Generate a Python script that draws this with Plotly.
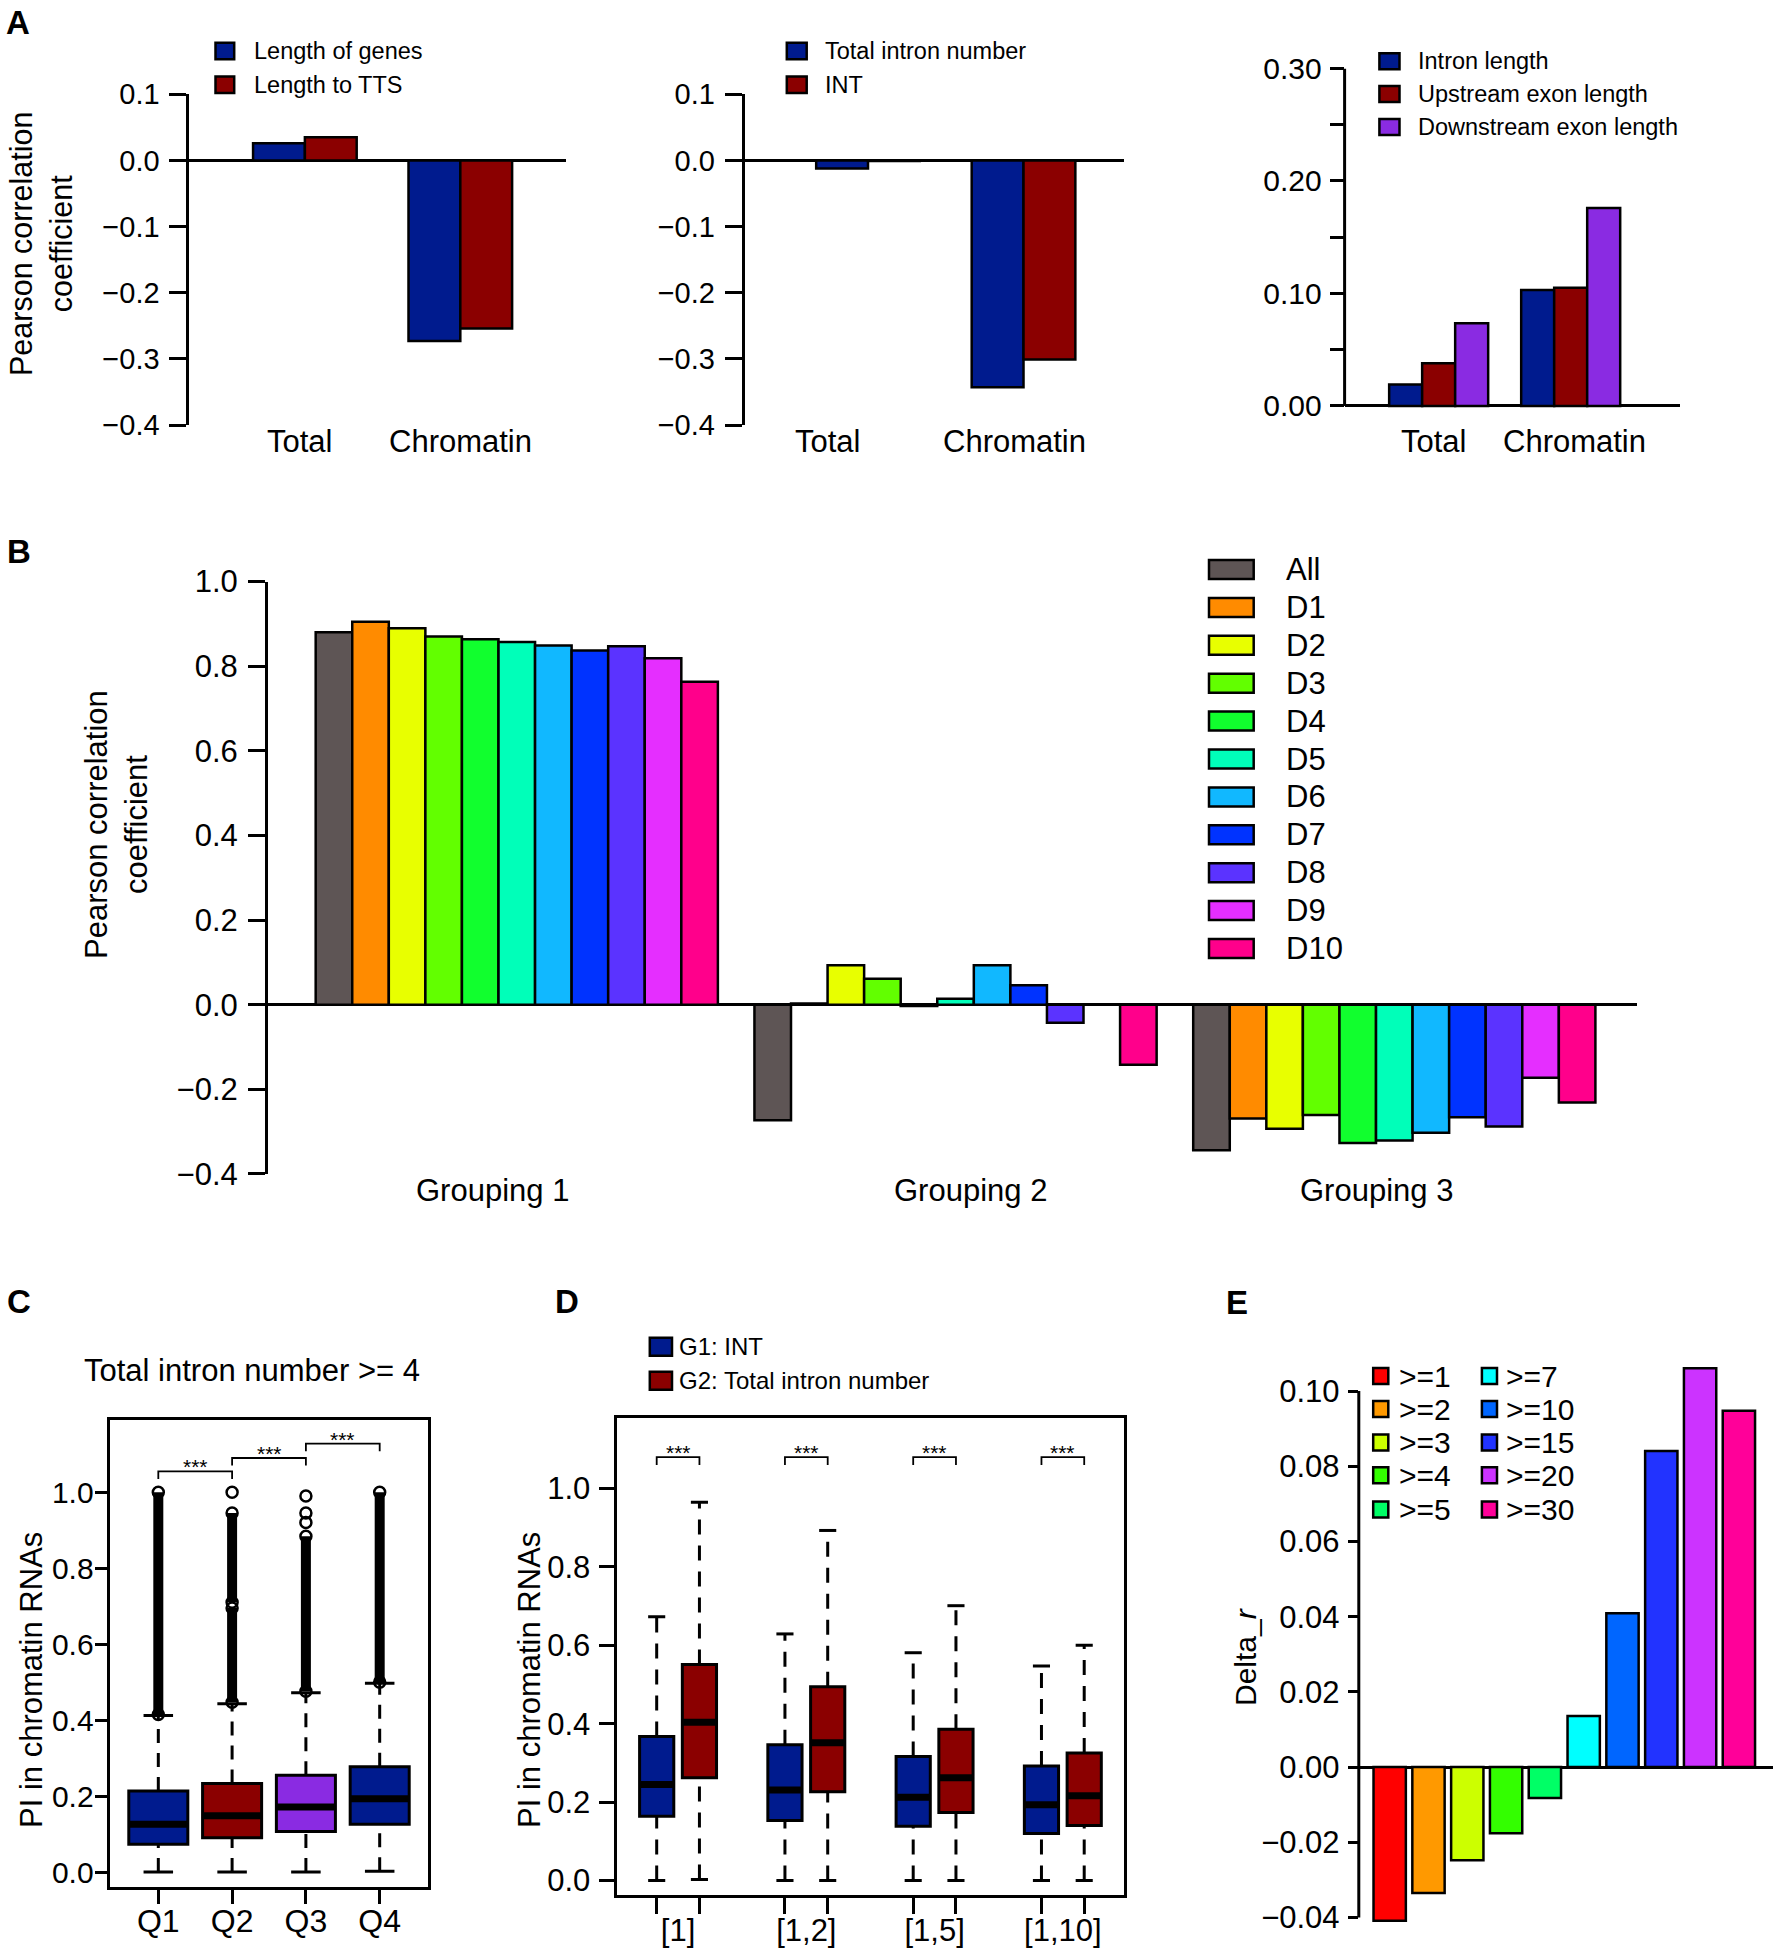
import plotly.graph_objects as go

W, H = 1774, 1950
FONT = "Liberation Sans, Arial, Helvetica, sans-serif"
BLUE = "#001B8E"
RED = "#8B0000"
PURPLE = "#8A2BE2"

# ---------------- data ----------------
# Panel A
a_categories = ["Total", "Chromatin"]
a1_series = ["Length of genes", "Length to TTS"]
a1_length_genes = [0.026, -0.273]
a1_length_tts = [0.035, -0.254]
a2_series = ["Total intron number", "INT"]
a2_total_intron = [-0.012, -0.343]
a2_int = [-0.001, -0.301]
a3_series = ["Intron length", "Upstream exon length", "Downstream exon length"]
a3_intron = [0.019, 0.103]
a3_upstream = [0.038, 0.105]
a3_downstream = [0.0735, 0.176]
a12_ticks = [-0.4, -0.3, -0.2, -0.1, 0.0, 0.1]
a3_ticks = [0.0, 0.05, 0.10, 0.15, 0.20, 0.25, 0.30]
a3_ticktext = ["0.00", "", "0.10", "", "0.20", "", "0.30"]

# Panel B
b_groups = ["Grouping 1", "Grouping 2", "Grouping 3"]
b_series = ["All", "D1", "D2", "D3", "D4", "D5", "D6", "D7", "D8", "D9", "D10"]
b_all = [0.880, -0.273, -0.344]
b_d1 = [0.905, 0.003, -0.269]
b_d2 = [0.890, 0.093, -0.293]
b_d3 = [0.870, 0.061, -0.261]
b_d4 = [0.864, -0.003, -0.327]
b_d5 = [0.857, 0.014, -0.321]
b_d6 = [0.849, 0.093, -0.303]
b_d7 = [0.837, 0.046, -0.266]
b_d8 = [0.847, -0.043, -0.288]
b_d9 = [0.819, 0.0, -0.173]
b_d10 = [0.763, -0.142, -0.231]
b_colors = ["#5E5555", "#FF8B00", "#E8FF00", "#62FF00", "#11FF2E", "#00FFB9",
            "#11B8FF", "#0033FF", "#5B33FF", "#E52EFF", "#FF008B"]
b_ticks = [-0.4, -0.2, 0.0, 0.2, 0.4, 0.6, 0.8, 1.0]

# Panel C
c_title = "Total intron number >= 4"
c_quartiles = ["Q1", "Q2", "Q3", "Q4"]
c_q1 = [0.073, 0.090, 0.107, 0.126]
c_median = [0.126, 0.148, 0.171, 0.193]
c_q3 = [0.2135, 0.233, 0.255, 0.2775]
c_whisker_low = [0.0, 0.0, 0.0, 0.002]
c_whisker_high = [0.412, 0.443, 0.472, 0.497]
c_colors = [BLUE, RED, PURPLE, BLUE]
c_outlier_runs = [[(0.415, 1.0)], [(0.447, 0.695), (0.71, 0.945)], [(0.476, 0.884)], [(0.50, 1.0)]]
c_outlier_points = [[], [1.0], [0.92, 0.945, 0.99], []]
c_sig_pairs = [(0, 1), (1, 2), (2, 3)]
c_sig_y = [1.055, 1.090, 1.128]
sig_label = "***"
box_ticks = [0.0, 0.2, 0.4, 0.6, 0.8, 1.0]

# Panel D
d_groups = ["[1]", "[1,2]", "[1,5]", "[1,10]"]
d_series = ["G1: INT", "G2: Total intron number"]
d_g1_q1 = [0.164, 0.153, 0.1385, 0.120]
d_g1_median = [0.245, 0.231, 0.212, 0.193]
d_g1_q3 = [0.3675, 0.346, 0.316, 0.292]
d_g1_low = [0.0, 0.0, 0.0, 0.0]
d_g1_high = [0.673, 0.629, 0.581, 0.547]
d_g2_q1 = [0.262, 0.226, 0.173, 0.140]
d_g2_median = [0.4035, 0.351, 0.262, 0.216]
d_g2_q3 = [0.551, 0.494, 0.386, 0.325]
d_g2_low = [0.002, 0.0, 0.0, 0.0]
d_g2_high = [0.965, 0.893, 0.701, 0.600]
d_sig_y = 1.08

# Panel E
e_thresholds = [">=1", ">=2", ">=3", ">=4", ">=5", ">=7", ">=10", ">=15", ">=20", ">=30"]
e_delta_r = [-0.0409, -0.0335, -0.0248, -0.0176, -0.0082, 0.0136, 0.0409, 0.0841, 0.1061, 0.0948]
e_colors = ["#FF0000", "#FF9900", "#CCFF00", "#33FF00", "#00FF66",
            "#00FFFF", "#0066FF", "#2233FF", "#CC33FF", "#FF0099"]
e_ticks = [-0.04, -0.02, 0.0, 0.02, 0.04, 0.06, 0.08, 0.10]


# ---------------- helpers ----------------
def px_x(p):
    return p / W


def px_y(p):
    return 1 - p / H


fig = go.Figure()
shapes = []
annotations = []


def grouped_bars(cats, series_vals, names, colors, ax):
    n = len(series_vals)
    unit = 1.0 / (n + 1)
    for k, (vals, name, col) in enumerate(zip(series_vals, names, colors)):
        fig.add_trace(go.Bar(
            x=cats, y=vals, name=name, offset=-n / 2 * unit + k * unit, width=unit,
            marker=dict(color=col, line=dict(color="black", width=2.5)),
            xaxis="x" + ax, yaxis="y" + ax, showlegend=False))


def add_legend(names, colors, sq_x0, sq_x1, sq_h, row_ys, label_x, size):
    for name, col, yc in zip(names, colors, row_ys):
        shapes.append(dict(type="rect", xref="paper", yref="paper",
                           x0=px_x(sq_x0), x1=px_x(sq_x1),
                           y0=px_y(yc + sq_h / 2), y1=px_y(yc - sq_h / 2),
                           fillcolor=col, line=dict(color="black", width=2.5)))
        annotations.append(dict(text=name, x=px_x(label_x), y=px_y(yc), xref="paper", yref="paper",
                                xanchor="left", yanchor="middle", showarrow=False,
                                font=dict(size=size, family=FONT, color="black")))


def text_ann(text, xp, yp, size, angle=0, bold=False):
    annotations.append(dict(text=("<b>%s</b>" % text) if bold else text,
                            x=px_x(xp), y=px_y(yp), xref="paper", yref="paper",
                            xanchor="center", yanchor="middle", showarrow=False, textangle=angle,
                            font=dict(size=size, family=FONT, color="black")))


def cat_labels(cats, ax, yp, shifts, size):
    for c, s in zip(cats, shifts):
        annotations.append(dict(text=c, x=c, xref="x" + ax, y=px_y(yp), yref="paper", xshift=s,
                                xanchor="center", yanchor="middle", showarrow=False,
                                font=dict(size=size, family=FONT, color="black")))


def yaxis_dict(xdom_anchor, ydom, rng, tickvals, ticktext=None, fmt=".1f", size=28, ticklen=16,
               showline=True, zeroline=True, standoff=6, mirror=False):
    d = dict(domain=[px_y(ydom[1]), px_y(ydom[0])], range=rng, anchor=xdom_anchor, automargin=False,
             tickmode="array", tickvals=tickvals, ticks="outside", ticklen=ticklen, tickwidth=3,
             tickcolor="black", showline=showline, linewidth=3, linecolor="black",
             showgrid=False, zeroline=zeroline, zerolinecolor="black", zerolinewidth=3,
             tickfont=dict(size=size, family=FONT, color="black"), ticklabelstandoff=standoff,
             mirror=mirror)
    if ticktext is not None:
        d["ticktext"] = ticktext
    else:
        d["tickformat"] = fmt
    return d


def xaxis_cat(ydom_anchor, xdom, rng):
    return dict(domain=[px_x(xdom[0]), px_x(xdom[1])], range=rng, anchor=ydom_anchor, type="category",
                ticks="", showline=False, showgrid=False, zeroline=False, showticklabels=False,
                automargin=False)


layout_axes = {}

# ---------------- Panel A ----------------
grouped_bars(a_categories, [a1_length_genes, a1_length_tts], a1_series, [BLUE, RED], "")
grouped_bars(a_categories, [a2_total_intron, a2_int], a2_series, [BLUE, RED], "2")
grouped_bars(a_categories, [a3_intron, a3_upstream, a3_downstream], a3_series, [BLUE, RED, PURPLE], "3")

layout_axes["xaxis"] = xaxis_cat("y", (189.4, 566), [-0.743, 1.68])
layout_axes["yaxis"] = yaxis_dict("x", (94.3, 425), [-0.4, 0.1], a12_ticks, size=29, ticklen=17, standoff=4)
layout_axes["xaxis2"] = xaxis_cat("y2", (744.7, 1123.5), [-0.793, 1.643])
layout_axes["yaxis2"] = yaxis_dict("x2", (94.3, 425), [-0.4, 0.1], a12_ticks, size=29, ticklen=17, standoff=4)
layout_axes["xaxis3"] = xaxis_cat("y3", (1344.6, 1680), [-0.7125, 1.828])
layout_axes["yaxis3"] = yaxis_dict("x3", (68.5, 425), [-0.017, 0.30], a3_ticks, ticktext=a3_ticktext,
                                   size=30, ticklen=14, showline=False, standoff=2)
shapes.append(dict(type="line", xref="x3 domain", yref="y3", x0=0, x1=0, y0=a3_ticks[0], y1=a3_ticks[-1],
                   line=dict(color="black", width=3)))
cat_labels(a_categories, "", 441, [-5.6, 0], 31)
cat_labels(a_categories, "2", 441, [-41, -9], 31)
cat_labels(a_categories, "3", 441, [-5.6, 3.7], 31)

add_legend(a1_series, [BLUE, RED], 215.5, 234.2, 16.6, [51, 84.7], 252, 23.5)
add_legend(a2_series, [BLUE, RED], 786.8, 806.7, 16.6, [51, 84.7], 823, 23.5)
add_legend(a3_series, [BLUE, RED, PURPLE], 1379.4, 1399.5, 16, [61.3, 94, 127], 1416, 23.5)
text_ann("Pearson correlation<br>coefficient", 41, 244, 30.5, angle=-90)

# ---------------- Panel B ----------------
grouped_bars(b_groups, [b_all, b_d1, b_d2, b_d3, b_d4, b_d5, b_d6, b_d7, b_d8, b_d9, b_d10],
             b_series, b_colors, "4")
layout_axes["xaxis4"] = xaxis_cat("y4", (268, 1636.5), [-0.567, 2.552])
layout_axes["yaxis4"] = yaxis_dict("x4", (581.6, 1173.9), [-0.4, 1.0], b_ticks, size=31, ticklen=17, standoff=4)
cat_labels(b_groups, "4", 1190, [-24, 14.5, -17.4], 31)
add_legend(b_series, b_colors, 1209, 1253.7, 19, [569.5 + 37.9 * k for k in range(len(b_series))], 1284, 31)
text_ann("Pearson correlation<br>coefficient", 116, 825, 31, angle=-90)


# ---------------- box helper ----------------
def draw_boxes(pos, q1, med, q3, lo, hi, colors, ax, boxw=0.8, dash="14px,10px"):
    for i in range(len(pos)):
        p = pos[i]
        fig.add_trace(go.Box(x=[p], q1=[q1[i]], median=[med[i]], q3=[q3[i]],
                             lowerfence=[q1[i]], upperfence=[q3[i]], width=boxw, whiskerwidth=0,
                             fillcolor=colors[i], line=dict(color="black", width=3), boxpoints=False,
                             xaxis="x" + ax, yaxis="y" + ax, showlegend=False, hoverinfo="skip"))
        fig.add_trace(go.Scatter(x=[p, p, None, p, p], y=[q3[i], hi[i], None, lo[i], q1[i]], mode="lines",
                                 line=dict(color="black", width=3, dash=dash),
                                 xaxis="x" + ax, yaxis="y" + ax, showlegend=False, hoverinfo="skip"))
        cw = boxw / 4
        fig.add_trace(go.Scatter(x=[p - cw, p + cw, None, p - cw, p + cw], y=[hi[i], hi[i], None, lo[i], lo[i]],
                                 mode="lines", line=dict(color="black", width=3),
                                 xaxis="x" + ax, yaxis="y" + ax, showlegend=False, hoverinfo="skip"))
        fig.add_trace(go.Scatter(x=[p - boxw / 2, p + boxw / 2], y=[med[i], med[i]], mode="lines",
                                 line=dict(color="black", width=7),
                                 xaxis="x" + ax, yaxis="y" + ax, showlegend=False, hoverinfo="skip"))


def sig_bracket(x0, x1, y, arm, ax):
    fig.add_trace(go.Scatter(x=[x0, x0, x1, x1], y=[y - arm, y, y, y - arm], mode="lines",
                             line=dict(color="black", width=1.8),
                             xaxis="x" + ax, yaxis="y" + ax, showlegend=False, hoverinfo="skip"))
    annotations.append(dict(text=sig_label, x=(x0 + x1) / 2, y=y, xref="x" + ax, yref="y" + ax,
                            xanchor="center", yanchor="bottom", yshift=-9, showarrow=False,
                            font=dict(size=21, family=FONT, color="black")))


# ---------------- Panel C ----------------
c_pos = list(range(len(c_quartiles)))
draw_boxes(c_pos, c_q1, c_median, c_q3, c_whisker_low, c_whisker_high, c_colors, "5")
for i, runs in enumerate(c_outlier_runs):
    for (a, b) in runs:
        fig.add_trace(go.Scatter(x=[c_pos[i], c_pos[i]], y=[a, b], mode="lines+markers",
                                 line=dict(color="black", width=10),
                                 marker=dict(symbol="circle-open", size=11, color="black", line=dict(width=2.5)),
                                 xaxis="x5", yaxis="y5", showlegend=False, hoverinfo="skip"))
for i, pts in enumerate(c_outlier_points):
    if pts:
        fig.add_trace(go.Scatter(x=[c_pos[i]] * len(pts), y=pts, mode="markers",
                                 marker=dict(symbol="circle-open", size=11, color="black", line=dict(width=2.5)),
                                 xaxis="x5", yaxis="y5", showlegend=False, hoverinfo="skip"))
for (i, j), yv in zip(c_sig_pairs, c_sig_y):
    sig_bracket(c_pos[i], c_pos[j], yv, 0.02, "5")

layout_axes["xaxis5"] = dict(domain=[px_x(109.6), px_x(428.4)], range=[-0.66, 3.66], anchor="y5",
                             tickmode="array", tickvals=c_pos, ticktext=c_quartiles, ticks="outside",
                             ticklen=14, tickwidth=3, tickcolor="black", showline=True, mirror=True,
                             linewidth=3, linecolor="black", showgrid=False, zeroline=False, automargin=False,
                             ticklabelstandoff=-10, tickfont=dict(size=32, family=FONT, color="black"))
layout_axes["yaxis5"] = yaxis_dict("x5", (1420, 1886.5), [-0.038, 1.19], box_ticks, size=30, ticklen=12,
                                   zeroline=False, standoff=-5, mirror=True)
text_ann(c_title, 252, 1370, 31)
text_ann("PI in chromatin RNAs", 31, 1680, 31, angle=-90)

# ---------------- Panel D ----------------
d_pos1 = [3 * g for g in range(len(d_groups))]
d_pos2 = [3 * g + 1 for g in range(len(d_groups))]
draw_boxes(d_pos1, d_g1_q1, d_g1_median, d_g1_q3, d_g1_low, d_g1_high, [BLUE] * 4, "6", dash="15px,11px")
draw_boxes(d_pos2, d_g2_q1, d_g2_median, d_g2_q3, d_g2_low, d_g2_high, [RED] * 4, "6", dash="15px,11px")
for a, b in zip(d_pos1, d_pos2):
    sig_bracket(a, b, d_sig_y, 0.02, "6")

layout_axes["xaxis6"] = dict(domain=[px_x(616.5), px_x(1124.4)], range=[-0.94, 10.94], anchor="y6",
                             tickmode="array", tickvals=[(a + b) / 2 for a, b in zip(d_pos1, d_pos2)],
                             ticktext=d_groups, ticks="", ticklabelstandoff=5,
                             minor=dict(tickmode="array", tickvals=sorted(d_pos1 + d_pos2), ticks="outside",
                                        ticklen=16, tickwidth=3, tickcolor="black"),
                             showline=True, mirror=True, linewidth=3, linecolor="black", showgrid=False,
                             zeroline=False, automargin=False, tickfont=dict(size=31, family=FONT, color="black"))
layout_axes["yaxis6"] = yaxis_dict("x6", (1417.6, 1895.3), [-0.038, 1.181], box_ticks, size=31, ticklen=15,
                                   zeroline=False, standoff=2, mirror=True)
add_legend(d_series, [BLUE, RED], 649.8, 672, 18, [1346.7, 1380.8], 677, 24)
text_ann("PI in chromatin RNAs", 529, 1680, 31, angle=-90)

# ---------------- Panel E ----------------
fig.add_trace(go.Bar(x=e_thresholds, y=e_delta_r, width=0.833,
                     marker=dict(color=e_colors, line=dict(color="black", width=2.5)),
                     xaxis="x7", yaxis="y7", showlegend=False))
layout_axes["xaxis7"] = dict(domain=[px_x(1358.8), px_x(1772.8)], range=[-0.796, 9.874], anchor="y7",
                             type="category", showticklabels=False, ticks="", showline=False,
                             showgrid=False, zeroline=False, automargin=False)
layout_axes["yaxis7"] = yaxis_dict("x7", (1346, 1943.8), [-0.047, 0.112], e_ticks, fmt=".2f", size=31,
                                   ticklen=10, showline=False, standoff=2)
shapes.append(dict(type="line", xref="x7 domain", yref="y7", x0=0, x1=0, y0=e_ticks[0], y1=e_ticks[-1],
                   line=dict(color="black", width=3)))
add_legend(e_thresholds[:5], e_colors[:5], 1373.2, 1388.3, 16,
           [1376.1, 1409, 1442.4, 1475.3, 1509.5], 1397, 30)
add_legend(e_thresholds[5:], e_colors[5:], 1481.9, 1497, 16,
           [1376.1, 1409, 1442.4, 1475.3, 1509.5], 1504, 30)
text_ann("Delta_<i>r</i>", 1245, 1657, 30, angle=-90)

# ---------------- panel letters ----------------
for letter, xp, yp in [("A", 17.5, 22), ("B", 18.5, 552), ("C", 18.5, 1301), ("D", 566.5, 1301), ("E", 1236.5, 1302)]:
    text_ann(letter, xp, yp, 33, bold=True)

fig.update_layout(template="none", width=W, height=H,
                  margin=dict(l=0, r=0, t=0, b=0, pad=0, autoexpand=False),
                  plot_bgcolor="white", paper_bgcolor="white", barmode="overlay",
                  font=dict(family=FONT, color="black"), shapes=shapes, annotations=annotations,
                  showlegend=False, **layout_axes)

fig.write_html("out.html", config={"displayModeBar": False},
               post_script="document.body.style.margin='0';document.body.style.overflow='hidden';")
